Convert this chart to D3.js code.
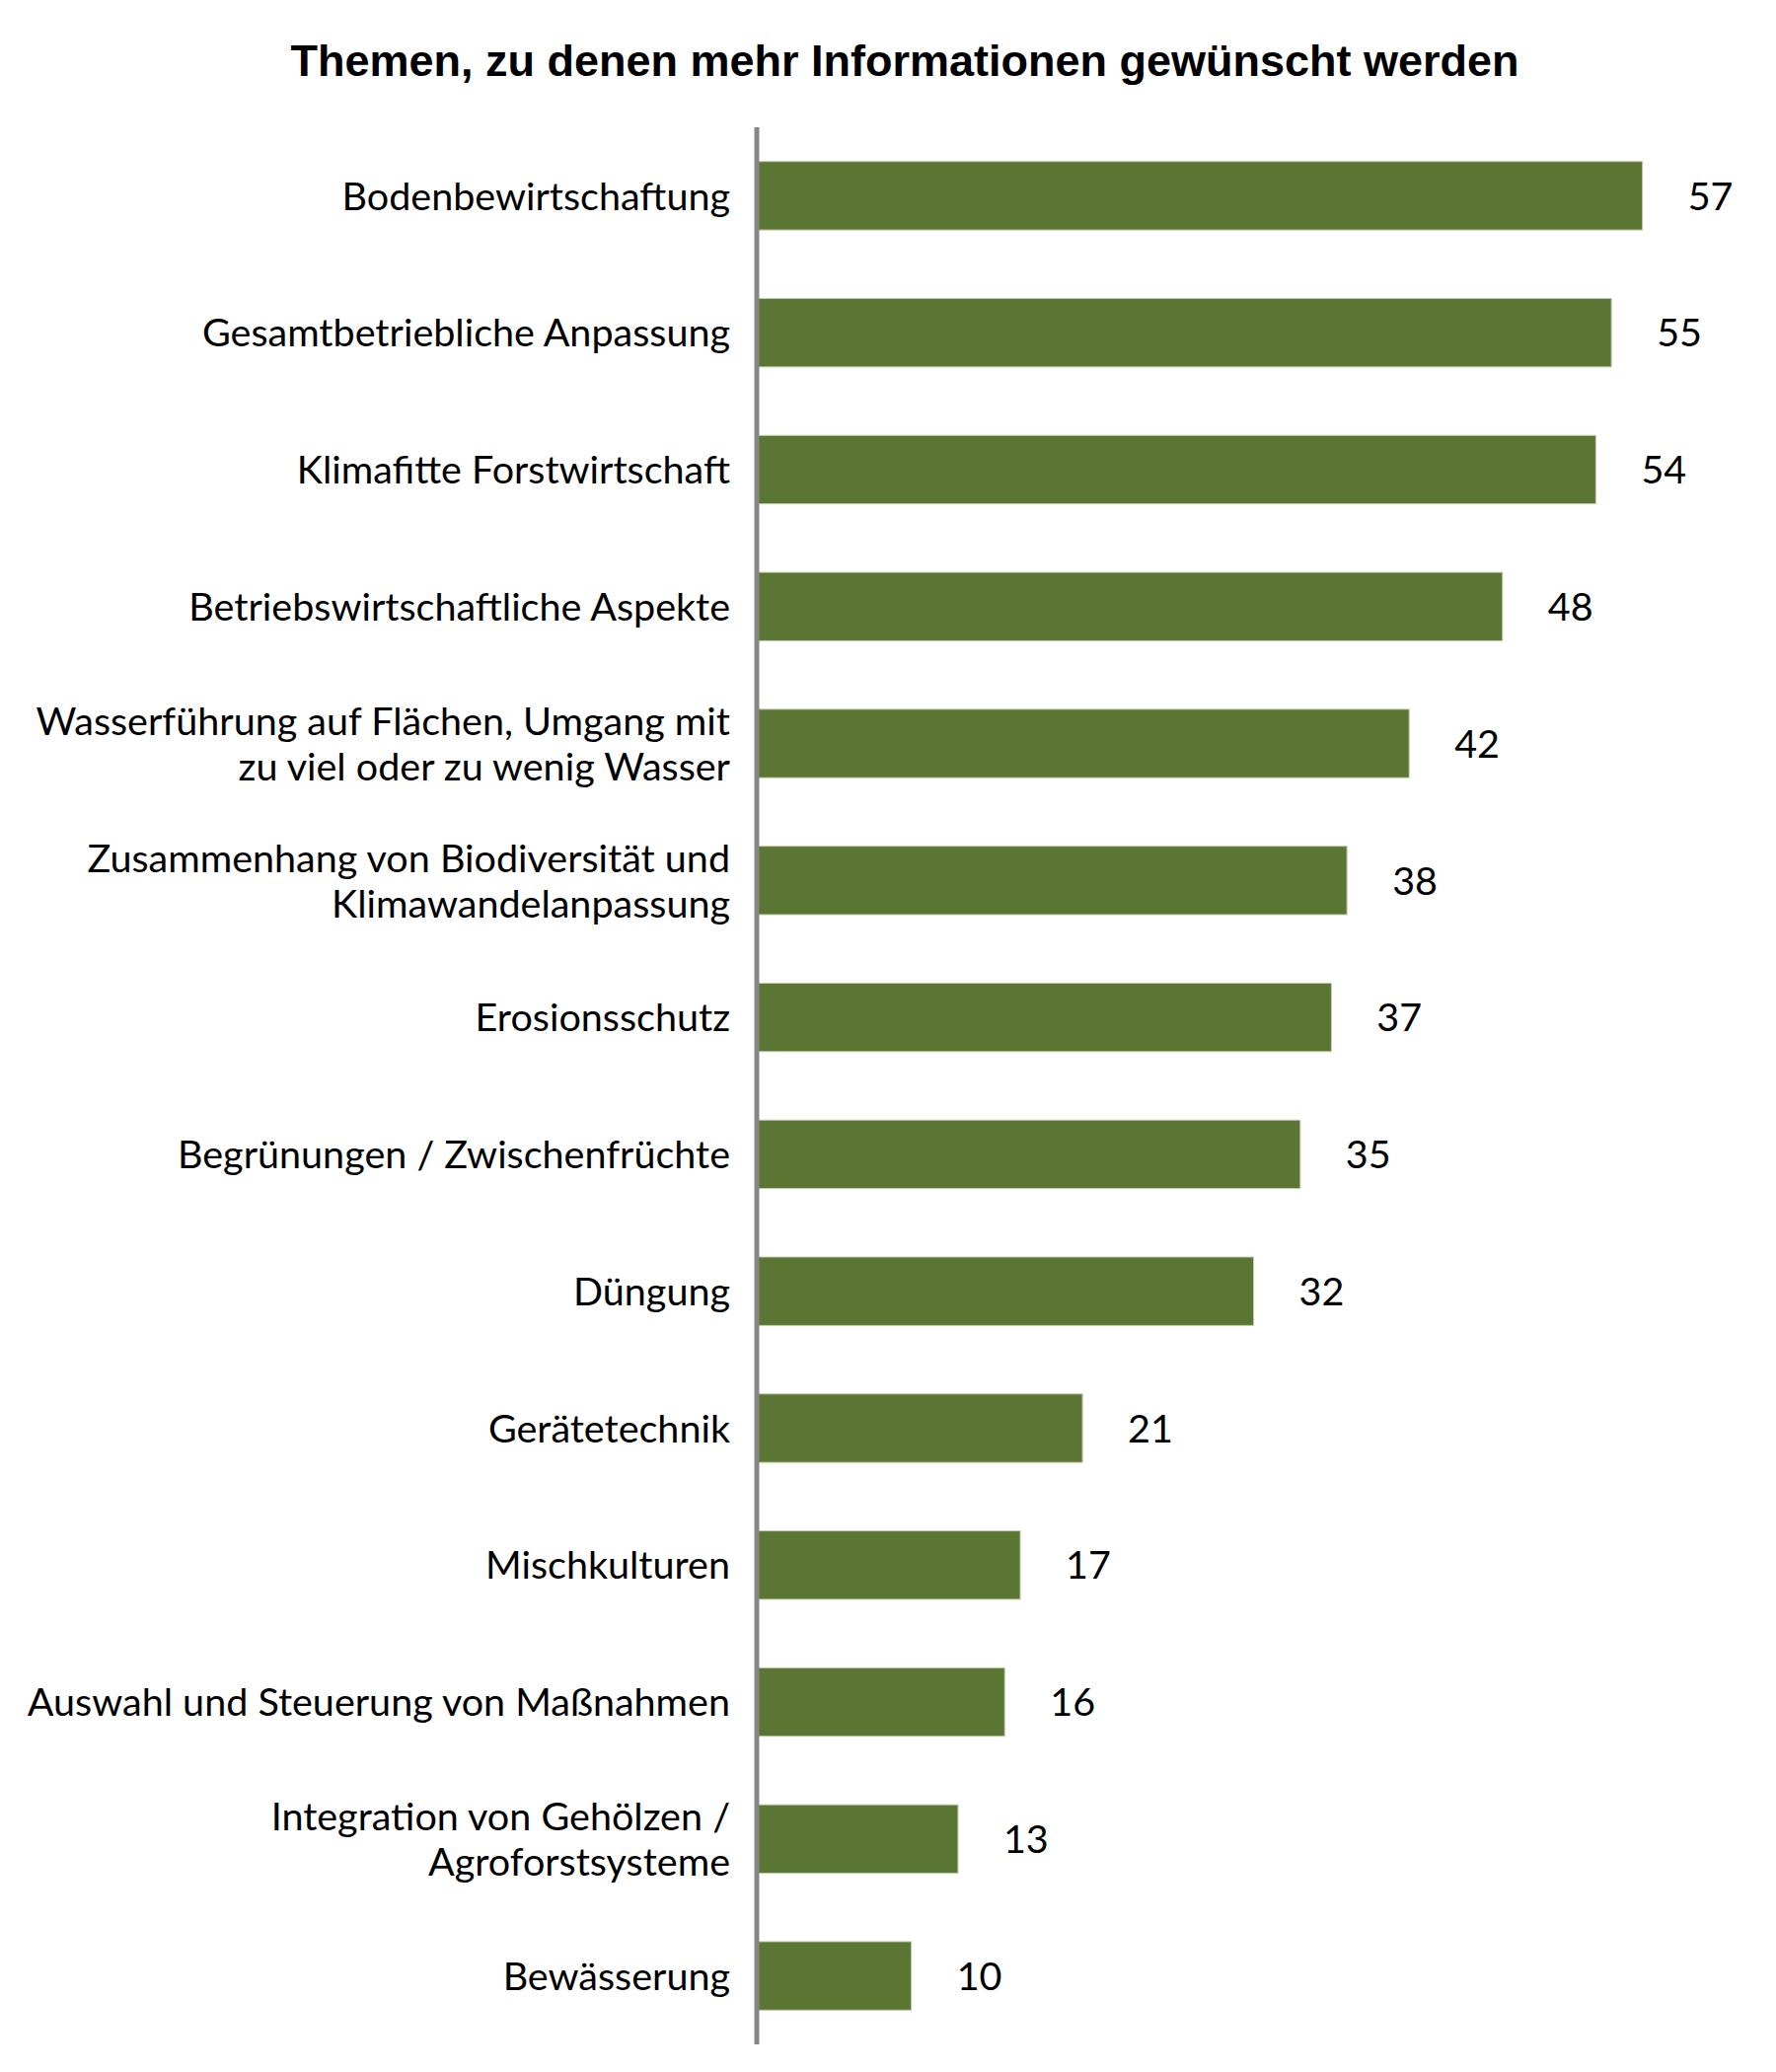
<!DOCTYPE html>
<html lang="de">
<head>
  <meta charset="utf-8">
  <title>Themen</title>
  <script src="https://cdn.jsdelivr.net/npm/d3@7/dist/d3.min.js"></script>
  <style>
    * { margin: 0; padding: 0; }
    body { background: #fff; }
  </style>
</head>
<body>
  <div id="chart"></div>
  <script>
    // Daten
    var categories = [
      "Bodenbewirtschaftung",
      "Gesamtbetriebliche Anpassung",
      "Klimafitte Forstwirtschaft",
      "Betriebswirtschaftliche Aspekte",
      "Wasserführung auf Flächen, Umgang mit\nzu viel oder zu wenig Wasser",
      "Zusammenhang von Biodiversität und\nKlimawandelanpassung",
      "Erosionsschutz",
      "Begrünungen / Zwischenfrüchte",
      "Düngung",
      "Gerätetechnik",
      "Mischkulturen",
      "Auswahl und Steuerung von Maßnahmen",
      "Integration von Gehölzen /\nAgroforstsysteme",
      "Bewässerung"
    ];
    var values = [57, 55, 54, 48, 42, 38, 37, 35, 32, 21, 17, 16, 13, 10];
    var title = "Themen, zu denen mehr Informationen gewünscht werden";

    var svgWidth = 1800;
    var svgHeight = 2100;
    var labelFont = 39.5;
    var barColor = "#5b7533";

    var svg = d3.select("#chart")
        .append("svg")
        .attr("width", svgWidth)
        .attr("height", svgHeight);

    svg.append("rect")
        .attr("width", svgWidth)
        .attr("height", svgHeight)
        .attr("fill", "#fff");

    // Skalen
    var x = d3.scaleLinear()
        .domain([0, 60])
        .range([766, 1712]);

    var y = d3.scaleBand()
        .domain(categories)
        .range([129, 2072])
        .paddingInner(0.5)
        .paddingOuter(0.25);

    // Titel
    svg.append("text")
        .attr("x", 917)
        .attr("y", 77)
        .attr("text-anchor", "middle")
        .attr("font-family", "'Liberation Sans', Arial, sans-serif")
        .attr("font-weight", "bold")
        .attr("font-size", "45px")
        .attr("fill", "#000")
        .text(title);

    // Balken
    svg.append("g")
        .selectAll("rect")
        .data(categories)
        .join("rect")
        .attr("x", x(0))
        .attr("y", function(d) { return y(d); })
        .attr("width", function(d, i) { return x(values[i]) - x(0); })
        .attr("height", y.bandwidth())
        .attr("fill", barColor)
        .attr("stroke", "#c4cfb0")
        .attr("stroke-width", 1);

    // Werte
    svg.append("g")
        .selectAll("text")
        .data(categories)
        .join("text")
        .attr("x", function(d, i) { return x(values[i]) + 46; })
        .attr("y", function(d) { return y(d) + y.bandwidth() / 2 + labelFont * 0.36; })
        .attr("font-family", "Lato, sans-serif")
        .attr("font-size", labelFont + "px")
        .attr("fill", "#000")
        .text(function(d, i) { return values[i]; });

    // Y-Achse mit Kategorien
    var yAxis = d3.axisLeft(y).tickSize(0).tickPadding(26);
    var yAxisG = svg.append("g")
        .attr("transform", "translate(" + x(0) + ",0)")
        .call(yAxis);

    yAxisG.select(".domain").remove();
    yAxisG.selectAll(".tick text").remove();

    yAxisG.selectAll(".tick").each(function(d) {
      var lines = d.split("\n");
      var t = d3.select(this).append("text")
          .attr("text-anchor", "end")
          .attr("font-family", "Lato, sans-serif")
          .attr("font-size", labelFont + "px")
          .attr("fill", "#000");
      var lh = 46;
      lines.forEach(function(line, k) {
        t.append("tspan")
            .attr("x", -26)
            .attr("y", (k - (lines.length - 1) / 2) * lh + labelFont * 0.36)
            .text(line);
      });
    });

    // Achsenlinie
    svg.append("line")
        .attr("x1", x(0) + 1)
        .attr("x2", x(0) + 1)
        .attr("y1", y.range()[0])
        .attr("y2", y.range()[1])
        .attr("stroke", "#868686")
        .attr("stroke-width", 5);
  </script>
</body>
</html>
